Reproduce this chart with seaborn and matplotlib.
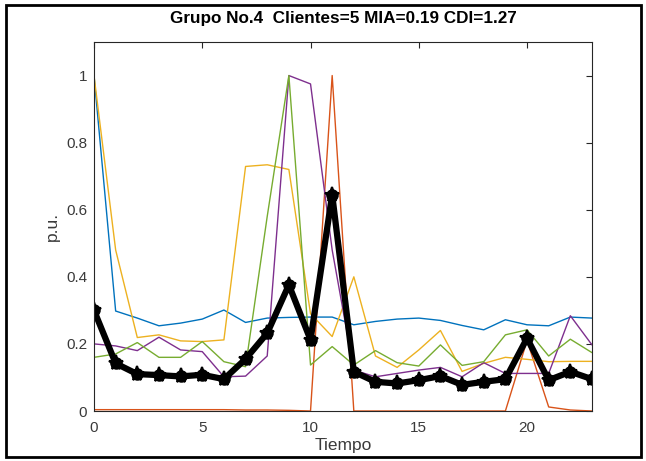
import matplotlib
matplotlib.use("Agg")
import matplotlib.pyplot as plt
import seaborn as sns
import numpy as np
import pandas as pd
from matplotlib.patches import Rectangle

tiempo = list(range(24))

cliente1 = [1.00, 0.298, 0.277, 0.254, 0.262, 0.274, 0.301, 0.264, 0.277, 0.279, 0.280, 0.280,
            0.257, 0.267, 0.274, 0.277, 0.270, 0.255, 0.242, 0.272, 0.257, 0.254, 0.280, 0.277]
cliente2 = [0.004, 0.004, 0.004, 0.004, 0.004, 0.004, 0.004, 0.003, 0.003, 0.002, 0.0, 1.00,
            0.0, 0.0, 0.0, 0.0, 0.0, 0.0, 0.0, 0.0, 0.21, 0.012, 0.003, 0.0]
cliente3 = [1.00, 0.48, 0.219, 0.227, 0.209, 0.207, 0.212, 0.729, 0.734, 0.720, 0.29, 0.222,
            0.40, 0.164, 0.13, 0.182, 0.24, 0.118, 0.142, 0.160, 0.154, 0.147, 0.148, 0.148]
cliente4 = [0.200, 0.194, 0.180, 0.220, 0.182, 0.177, 0.102, 0.104, 0.164, 1.00, 0.975, 0.48,
            0.122, 0.102, 0.112, 0.122, 0.130, 0.102, 0.144, 0.112, 0.112, 0.112, 0.284, 0.197]
cliente5 = [0.160, 0.170, 0.204, 0.160, 0.160, 0.207, 0.147, 0.132, 0.58, 1.00, 0.137, 0.192,
            0.137, 0.180, 0.144, 0.134, 0.197, 0.136, 0.147, 0.227, 0.242, 0.164, 0.214, 0.174]
promedio = [0.300, 0.142, 0.110, 0.107, 0.103, 0.108, 0.095, 0.155, 0.232, 0.376, 0.212, 0.645,
            0.117, 0.087, 0.082, 0.092, 0.104, 0.078, 0.087, 0.095, 0.217, 0.092, 0.117, 0.095]

clientes = [cliente1, cliente2, cliente3, cliente4, cliente5]
colores = ["#0072BD", "#D95319", "#EDB120", "#7E2F8E", "#77AC30"]

titulo = "Grupo No.4  Clientes=5 MIA=0.19 CDI=1.27"
x_ticks = [0, 5, 10, 15, 20]
y_ticks = [0, 0.2, 0.4, 0.6, 0.8, 1]
y_ticklabels = ["0", "0.2", "0.4", "0.6", "0.8", "1"]

sns.set_style("white")
plt.rcParams['font.family'] = ['Liberation Sans', 'DejaVu Sans']

fig = plt.figure(figsize=(6.46, 4.61), dpi=100)
ax = fig.add_axes([94/646, 1-411/461, (592-94)/646, (411-42)/461])

for vals, c in zip(clientes, colores):
    df = pd.DataFrame({"t": tiempo, "v": vals})
    sns.lineplot(data=df, x="t", y="v", color=c, linewidth=1.0, ax=ax)

dfm = pd.DataFrame({"t": tiempo, "v": promedio})
sns.lineplot(data=dfm, x="t", y="v", color="black", linewidth=4.5, marker="o",
             markersize=9, markeredgewidth=0, ax=ax)
ax.plot(tiempo, promedio, linestyle="none", marker="*", markersize=11, color="black",
        markeredgewidth=1.5)

ax.set_xlim(0, 23)
ax.set_ylim(0, 1.1)
ax.set_xticks(x_ticks)
ax.set_yticks(y_ticks)
ax.set_yticklabels(y_ticklabels)
ax.tick_params(direction="in", top=True, right=True, length=4, width=0.8,
               labelsize=11, colors="#262626", labelcolor="#3a3a3a")
ax.tick_params(axis="x", pad=7)
ax.tick_params(axis="y", pad=5)
for s in ax.spines.values():
    s.set_visible(True)
    s.set_color("#262626")
    s.set_linewidth(0.8)
ax.set_xlabel("Tiempo", fontsize=12.5, color="#3a3a3a", labelpad=2)
ax.set_ylabel("p.u.", fontsize=12.5, color="#3a3a3a", labelpad=4)
ax.set_title(titulo, fontsize=12.3, fontweight="bold", color="black", pad=14)

fig.patches.append(Rectangle((6/646, 4/461), 635/646, 452/461, transform=fig.transFigure,
                             fill=False, edgecolor="black", linewidth=2.0))

fig.savefig("out.png", dpi=100)
